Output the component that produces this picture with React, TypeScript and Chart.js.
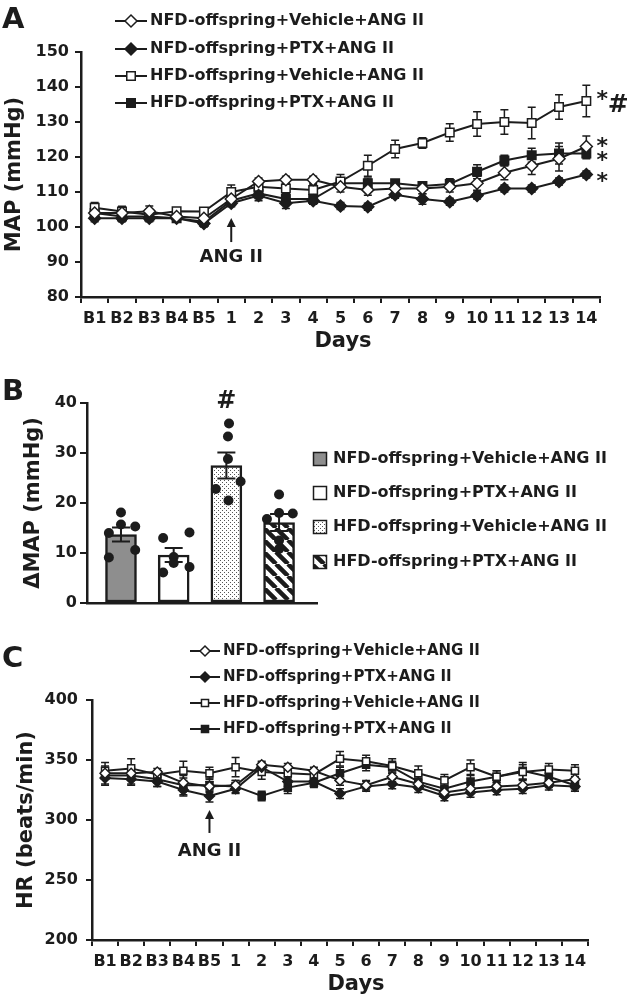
import React, { useEffect, useRef } from 'react';
import { Chart, registerables } from 'chart.js';
Chart.register(...registerables);

// ---------------- DATA ----------------
const dayLabels = ['B1', 'B2', 'B3', 'B4', 'B5', '1', '2', '3', '4', '5', '6', '7', '8', '9', '10', '11', '12', '13', '14'];
const seriesNames = [
  'NFD-offspring+Vehicle+ANG II',
  'NFD-offspring+PTX+ANG II',
  'HFD-offspring+Vehicle+ANG II',
  'HFD-offspring+PTX+ANG II',
];

// Panel A: MAP (mmHg)
const mapNfdVeh = [104, 104, 104.5, 103, 102.5, 108, 113, 113.5, 113.5, 111.5, 110.6, 111, 111, 111.5, 112.5, 115.5, 117.5, 119.5, 123];
const mapNfdVehErr = [1, 1.5, 1.5, 1, 1, 1.5, 1, 1, 1, 1.5, 1.5, 1.5, 1.5, 1.5, 2, 2, 2.5, 3.5, 3];
const mapNfdPtx = [102.5, 102.5, 102.5, 102.5, 101, 106.8, 109, 106.8, 107.5, 106, 105.8, 109.2, 108, 107.2, 109, 111, 111, 113, 115];
const mapNfdPtxErr = [1, 1, 1, 1, 1, 1, 1.5, 1.5, 1, 1, 1, 1, 1.5, 1, 1, 1, 1, 1, 1];
const mapHfdVeh = [105.5, 104.4, 103.5, 104.5, 104.4, 110, 111.5, 111, 110.6, 113, 117.5, 122.3, 124, 127, 129.4, 130, 129.7, 134.3, 136];
const mapHfdVehErr = [1.5, 1.5, 1, 1, 1, 2, 1.5, 1.5, 1.5, 2, 3, 2.5, 1.5, 2.5, 3.5, 3.5, 4.5, 3.5, 4.5];
const mapHfdPtx = [104, 103, 103, 102.5, 101.5, 107.5, 109.6, 108, 108, 112.5, 112.5, 112.5, 111.7, 112.3, 115.8, 119, 120.5, 121, 121];
const mapHfdPtxErr = [1, 1, 1, 1, 1, 1.5, 1.5, 1.5, 1.5, 1.5, 1.5, 1, 1, 1.5, 2, 1.5, 2, 3, 1.5];
const mapStarLevels = [124.3, 114.3, 137.7, 120.3];
const mapHashLevel = 134.6;
const mapArrow = { index: 5, tip: 102.6, base: 95.7, text: 91.4 };

// Panel B: delta MAP (mmHg)
const dmapMeans = [13.7, 9.6, 27.5, 16.1];
const dmapSem = [1.4, 1.4, 2.6, 1.7];
const dmapDotsNfdVeh = [18.1, 15.7, 15.3, 14.0, 10.6, 9.1];
const dmapDotsNfdPtx = [13.0, 14.1, 9.2, 8.0, 6.1, 7.2];
const dmapDotsHfdVeh = [35.9, 33.3, 28.8, 22.8, 24.3, 20.5];
const dmapDotsHfdPtx = [21.7, 16.8, 18.0, 17.9, 12.5, 10.8];
const jitterNfdVeh = [0, 0, 0.27, -0.23, 0.27, -0.23];
const jitterNfdPtx = [-0.2, 0.3, 0, 0, -0.2, 0.3];
const jitterHfdVeh = [0.05, 0.03, 0.03, -0.2, 0.27, 0.04];
const jitterHfdPtx = [0, -0.23, 0, 0.26, 0, 0];
const dmapHashLevel = 40.2;

// Panel C: HR (beats/min)
const hrNfdVeh = [339, 339, 340, 331, 328, 329, 346, 344, 341, 333, 329, 336, 330, 323, 326, 328, 329, 331, 334];
const hrNfdVehErr = [4, 4, 3, 4, 4, 4, 3, 3, 3, 4, 4, 4, 4, 4, 4, 4, 4, 4, 4];
const hrNfdPtx = [335, 334, 332, 325, 320, 326, 344, 332, 332, 322, 328, 330, 327, 320, 323, 325, 326, 329, 328];
const hrNfdPtxErr = [5, 5, 4, 5, 5, 4, 4, 4, 4, 4, 4, 4, 4, 4, 4, 4, 4, 4, 4];
const hrHfdVeh = [341, 343, 338, 341, 339, 344, 340, 339, 338, 351, 349, 345, 339, 333, 344, 336, 340, 342, 341];
const hrHfdVehErr = [7, 8, 3, 8, 5, 8, 6, 4, 4, 6, 5, 6, 6, 5, 6, 5, 6, 5, 5];
const hrHfdPtx = [337, 337, 334, 329, 329, 328, 320, 327, 331, 339, 346, 344, 332, 326, 332, 336, 341, 336, 329];
const hrHfdPtxErr = [8, 7, 6, 8, 6, 5, 4, 5, 4, 5, 5, 5, 5, 5, 5, 5, 7, 5, 5];
const hrArrow = { index: 4, tip: 308.3, base: 289.2, text: 274.2 };

// ---------------- STYLE ----------------
const INK = '#1c1c1c';
const FAM = "'DejaVu Sans', 'Liberation Sans', sans-serif";
const W = 627;
const markerStyles = ['rectRot', 'rectRot', 'rect', 'rect'];
const markerFilled = [false, true, false, true];

function drawMarker(ctx: CanvasRenderingContext2D, i: number, x: number, y: number, r: number) {
  ctx.beginPath();
  if (markerStyles[i] === 'rectRot') {
    ctx.moveTo(x - r, y);
    ctx.lineTo(x, y - r);
    ctx.lineTo(x + r, y);
    ctx.lineTo(x, y + r);
    ctx.closePath();
  } else {
    const s = r * Math.SQRT1_2;
    ctx.rect(x - s, y - s, 2 * s, 2 * s);
  }
  ctx.fillStyle = markerFilled[i] ? INK : '#ffffff';
  ctx.fill();
  ctx.lineWidth = 1.5;
  ctx.strokeStyle = INK;
  ctx.stroke();
}

function text(ctx: CanvasRenderingContext2D, s: string, x: number, y: number, size: number, align: CanvasTextAlign = 'left', baseline: CanvasTextBaseline = 'middle') {
  ctx.fillStyle = INK;
  ctx.font = `bold ${size}px ${FAM}`;
  ctx.textAlign = align;
  ctx.textBaseline = baseline;
  ctx.fillText(s, x, y);
}

function drawArrow(ctx: CanvasRenderingContext2D, x: number, yBase: number, yTip: number) {
  ctx.save();
  ctx.strokeStyle = INK;
  ctx.fillStyle = INK;
  ctx.lineWidth = 2;
  ctx.beginPath();
  ctx.moveTo(x, yBase);
  ctx.lineTo(x, yTip + 6);
  ctx.stroke();
  ctx.beginPath();
  ctx.moveTo(x, yTip);
  ctx.lineTo(x - 4.5, yTip + 9);
  ctx.lineTo(x + 4.5, yTip + 9);
  ctx.closePath();
  ctx.fill();
  ctx.restore();
}

const errorBars = (errs: number[][], cap: number, lw: number) => ({
  id: 'errorBars',
  beforeDatasetsDraw(chart: any) {
    const ctx = chart.ctx;
    const ys = chart.scales.y;
    ctx.save();
    ctx.strokeStyle = INK;
    ctx.lineWidth = lw;
    errs.forEach((e, i) => {
      const meta = chart.getDatasetMeta(i);
      const vals = chart.data.datasets[i].data as number[];
      meta.data.forEach((pt: any, j: number) => {
        const v = vals[j];
        const t = ys.getPixelForValue(v + e[j]);
        const b = ys.getPixelForValue(v - e[j]);
        ctx.beginPath();
        ctx.moveTo(pt.x, t);
        ctx.lineTo(pt.x, b);
        ctx.moveTo(pt.x - cap, t);
        ctx.lineTo(pt.x + cap, t);
        ctx.moveTo(pt.x - cap, b);
        ctx.lineTo(pt.x + cap, b);
        ctx.stroke();
      });
    });
    ctx.restore();
  },
});

const lineLegend = (cfg: { x0: number; x1: number; tx: number; ys: number[]; size: number; r: number }) => ({
  id: 'lineLegend',
  afterDraw(chart: any) {
    const ctx = chart.ctx as CanvasRenderingContext2D;
    ctx.save();
    cfg.ys.forEach((y, i) => {
      ctx.strokeStyle = INK;
      ctx.lineWidth = 2;
      ctx.beginPath();
      ctx.moveTo(cfg.x0, y);
      ctx.lineTo(cfg.x1, y);
      ctx.stroke();
      drawMarker(ctx, i, (cfg.x0 + cfg.x1) / 2, y, cfg.r);
      text(ctx, seriesNames[i], cfg.tx, y, cfg.size);
    });
    ctx.restore();
  },
});

function axisBase(size: number, tickLen: number, pad: number) {
  return {
    border: { display: true, color: INK, width: 2.5 },
    grid: { display: true, drawOnChartArea: false, drawTicks: true, tickLength: tickLen, color: INK, lineWidth: 2 },
    ticks: { color: INK, font: { family: FAM, size, weight: 'bold' as const }, padding: pad },
  };
}

type LineCfg = {
  h: number; left: number; right: number; plotTop: number; plotBottom: number;
  yMin: number; yMax: number; yStep: number; yTitle: string; yTitlePad: number; yTickPad: number;
  series: number[][]; errs: number[][]; r: number;
  plugins: any[];
};

function buildLine(canvas: HTMLCanvasElement, c: LineCfg) {
  const x = axisBase(16, 6, 6);
  const y = axisBase(16, 6, c.yTickPad);
  return new Chart(canvas, {
    type: 'line',
    data: {
      labels: dayLabels,
      datasets: c.series.map((data, i) => ({
        label: seriesNames[i],
        data,
        borderColor: INK,
        borderWidth: 2,
        pointStyle: markerStyles[i] as any,
        pointRadius: c.r,
        pointBackgroundColor: markerFilled[i] ? INK : '#ffffff',
        pointBorderColor: INK,
        pointBorderWidth: 1.5,
        tension: 0,
        clip: false as any,
      })),
    },
    options: {
      responsive: false,
      maintainAspectRatio: false,
      animation: false,
      devicePixelRatio: 1,
      layout: { padding: { top: c.plotTop, right: W - c.right, left: 0, bottom: 0 } },
      plugins: { legend: { display: false }, tooltip: { enabled: false } },
      scales: {
        x: {
          type: 'category',
          offset: true,
          border: x.border,
          grid: { ...x.grid, offset: true },
          ticks: { ...x.ticks, autoSkip: false, maxRotation: 0, minRotation: 0 },
          afterFit: (s: any) => { s.height = c.h - c.plotBottom; },
        },
        y: {
          type: 'linear',
          min: c.yMin,
          max: c.yMax,
          border: y.border,
          grid: y.grid,
          ticks: { ...y.ticks, stepSize: c.yStep },
          title: {
            display: true,
            text: c.yTitle,
            color: INK,
            font: { family: FAM, size: 21, weight: 'bold' },
            padding: { top: c.yTitlePad, bottom: 0 },
          },
          afterFit: (s: any) => { s.width = c.left; },
        },
      },
    } as any,
    plugins: [errorBars(c.errs, 4, 1.5), ...c.plugins],
  });
}

function buildA(canvas: HTMLCanvasElement) {
  const annot = {
    id: 'annotA',
    afterDraw(chart: any) {
      const ctx = chart.ctx as CanvasRenderingContext2D;
      const xs = chart.scales.x;
      const ys = chart.scales.y;
      ctx.save();
      text(ctx, 'A', 2, 28, 29, 'left', 'alphabetic');
      text(ctx, 'Days', 343, 342, 21, 'center');
      const ax = xs.getPixelForValue(mapArrow.index);
      drawArrow(ctx, ax, ys.getPixelForValue(mapArrow.base), ys.getPixelForValue(mapArrow.tip));
      text(ctx, 'ANG II', ax, ys.getPixelForValue(mapArrow.text), 18, 'center');
      const lastX = xs.getPixelForValue(dayLabels.length - 1);
      mapStarLevels.forEach((v) => text(ctx, '*', lastX + 16, ys.getPixelForValue(v) + 5, 22, 'center'));
      text(ctx, '#', lastX + 32, ys.getPixelForValue(mapHashLevel), 25, 'center');
      ctx.restore();
    },
  };
  return buildLine(canvas, {
    h: 360, left: 81, right: 600, plotTop: 52, plotBottom: 297,
    yMin: 80, yMax: 150, yStep: 10, yTitle: 'MAP (mmHg)', yTitlePad: 2, yTickPad: 6,
    series: [mapNfdVeh, mapNfdPtx, mapHfdVeh, mapHfdPtx],
    errs: [mapNfdVehErr, mapNfdPtxErr, mapHfdVehErr, mapHfdPtxErr],
    r: 6,
    plugins: [lineLegend({ x0: 115, x1: 147, tx: 150, ys: [21, 49, 76, 103], size: 16, r: 6 }), annot],
  });
}

function buildC(canvas: HTMLCanvasElement) {
  const top = 630;
  const annot = {
    id: 'annotC',
    afterDraw(chart: any) {
      const ctx = chart.ctx as CanvasRenderingContext2D;
      const xs = chart.scales.x;
      const ys = chart.scales.y;
      ctx.save();
      text(ctx, 'C', 2, 667 - top, 29, 'left', 'alphabetic');
      text(ctx, 'Days', 356, 985 - top, 21, 'center');
      const ax = xs.getPixelForValue(hrArrow.index);
      drawArrow(ctx, ax, ys.getPixelForValue(hrArrow.base), ys.getPixelForValue(hrArrow.tip));
      text(ctx, 'ANG II', ax, ys.getPixelForValue(hrArrow.text), 18, 'center');
      ctx.restore();
    },
  };
  return buildLine(canvas, {
    h: 373, left: 92, right: 588, plotTop: 700 - top, plotBottom: 940 - top,
    yMin: 200, yMax: 400, yStep: 50, yTitle: 'HR (beats/min)', yTitlePad: 14, yTickPad: 8,
    series: [hrNfdVeh, hrNfdPtx, hrHfdVeh, hrHfdPtx],
    errs: [hrNfdVehErr, hrNfdPtxErr, hrHfdVehErr, hrHfdPtxErr],
    r: 5,
    plugins: [lineLegend({ x0: 190, x1: 220, tx: 223, ys: [651, 677, 703, 729].map((v) => v - top), size: 15, r: 5 }), annot],
  });
}

function dotPattern() {
  const c = document.createElement('canvas');
  c.width = 4; c.height = 4;
  const g = c.getContext('2d')!;
  g.fillStyle = '#ffffff';
  g.fillRect(0, 0, 4, 4);
  g.fillStyle = '#555555';
  g.fillRect(0, 0, 1, 1);
  g.fillRect(2, 2, 1, 1);
  return g.createPattern(c, 'repeat')!;
}

function stripePattern() {
  const s = 12;
  const c = document.createElement('canvas');
  c.width = s; c.height = s;
  const g = c.getContext('2d')!;
  g.fillStyle = '#ffffff';
  g.fillRect(0, 0, s, s);
  g.strokeStyle = INK;
  g.lineWidth = 4.5;
  g.beginPath();
  for (const k of [-s, 0, s]) {
    g.moveTo(k, 0);
    g.lineTo(k + s, s);
  }
  g.stroke();
  return g.createPattern(c, 'repeat')!;
}

function buildB(canvas: HTMLCanvasElement) {
  const top = 360;
  const fills: any[] = ['#8e8e8e', '#ffffff', dotPattern(), stripePattern()];
  const groups = [dmapDotsNfdVeh, dmapDotsNfdPtx, dmapDotsHfdVeh, dmapDotsHfdPtx];
  const jitters = [jitterNfdVeh, jitterNfdPtx, jitterHfdVeh, jitterHfdPtx];
  const dots = groups.flatMap((g, i) => g.map((v, j) => ({ x: i + 1 + jitters[i][j], y: v })));
  const y = axisBase(16, 7, 3);
  const barErr = {
    id: 'barErr',
    afterDatasetDraw(chart: any, args: any) {
      if (args.index !== 0) return;
      const ctx = chart.ctx as CanvasRenderingContext2D;
      const ys = chart.scales.y;
      ctx.save();
      ctx.strokeStyle = INK;
      ctx.lineWidth = 2;
      args.meta.data.forEach((bar: any, i: number) => {
        const t = ys.getPixelForValue(dmapMeans[i] + dmapSem[i]);
        const b = ys.getPixelForValue(dmapMeans[i] - dmapSem[i]);
        ctx.beginPath();
        ctx.moveTo(bar.x, t); ctx.lineTo(bar.x, b);
        ctx.moveTo(bar.x - 9, t); ctx.lineTo(bar.x + 9, t);
        ctx.moveTo(bar.x - 9, b); ctx.lineTo(bar.x + 9, b);
        ctx.stroke();
      });
      ctx.restore();
    },
  };
  const annot = {
    id: 'annotB',
    afterDraw(chart: any) {
      const ctx = chart.ctx as CanvasRenderingContext2D;
      const xs = chart.scales.x;
      const ys = chart.scales.y;
      ctx.save();
      text(ctx, 'B', 2, 400 - top, 29, 'left', 'alphabetic');
      text(ctx, '#', xs.getPixelForValue(3), ys.getPixelForValue(dmapHashLevel), 24, 'center');
      const rows = [459, 493, 527, 562];
      rows.forEach((ry, i) => {
        const yy = ry - top;
        ctx.fillStyle = fills[i];
        ctx.fillRect(313.5, yy - 6.5, 13, 13);
        ctx.strokeStyle = INK;
        ctx.lineWidth = 1.5;
        ctx.strokeRect(313.5, yy - 6.5, 13, 13);
        text(ctx, seriesNames[i], 333, yy, 16);
      });
      ctx.restore();
    },
  };
  return new Chart(canvas, {
    type: 'bar',
    data: {
      datasets: [
        {
          type: 'bar',
          data: dmapMeans.map((v, i) => ({ x: i + 1, y: v })),
          backgroundColor: fills,
          borderColor: INK,
          borderWidth: 2.5,
          borderSkipped: false,
          barThickness: 31,
          order: 1,
        } as any,
        {
          type: 'scatter',
          data: dots,
          pointRadius: 5,
          pointBackgroundColor: INK,
          pointBorderColor: INK,
          pointBorderWidth: 0,
          order: 0,
          clip: false,
        } as any,
      ],
    },
    options: {
      responsive: false,
      maintainAspectRatio: false,
      animation: false,
      devicePixelRatio: 1,
      layout: { padding: { top: 403 - top, right: W - 317, left: 0, bottom: 0 } },
      plugins: { legend: { display: false }, tooltip: { enabled: false } },
      scales: {
        x: {
          type: 'linear',
          offset: false,
          min: 0.355,
          max: 4.72,
          border: { display: true, color: INK, width: 2.5 },
          grid: { display: false },
          ticks: { display: false },
          afterFit: (s: any) => { s.height = 630 - 603; },
        },
        y: {
          type: 'linear',
          min: 0,
          max: 40,
          border: y.border,
          grid: y.grid,
          ticks: { ...y.ticks, stepSize: 10 },
          title: {
            display: true,
            text: 'ΔMAP (mmHg)',
            color: INK,
            font: { family: FAM, size: 21, weight: 'bold' },
            padding: { top: 21, bottom: 0 },
          },
          afterFit: (s: any) => { s.width = 87; },
        },
      },
    } as any,
    plugins: [barErr, annot],
  });
}

export default function App() {
  const refA = useRef<HTMLCanvasElement>(null);
  const refB = useRef<HTMLCanvasElement>(null);
  const refC = useRef<HTMLCanvasElement>(null);
  useEffect(() => {
    const charts = [buildA(refA.current!), buildB(refB.current!), buildC(refC.current!)];
    return () => charts.forEach((c) => c.destroy());
  }, []);
  const cs = (t: number, h: number): React.CSSProperties => ({ position: 'absolute', left: 0, top: t, width: W, height: h, display: 'block' });
  return (
    <div style={{ position: 'absolute', left: 0, top: 0, width: W, height: 1003, background: '#ffffff', overflow: 'hidden' }}>
      <canvas ref={refA} width={W} height={360} style={cs(0, 360)} />
      <canvas ref={refB} width={W} height={270} style={cs(360, 270)} />
      <canvas ref={refC} width={W} height={373} style={cs(630, 373)} />
    </div>
  );
}
